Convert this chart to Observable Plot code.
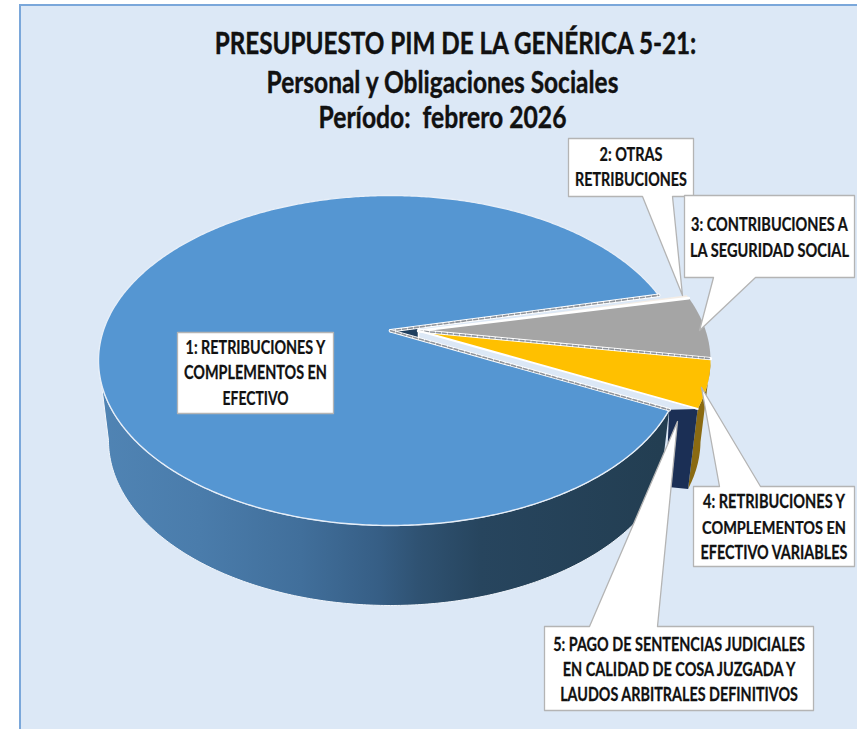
<!DOCTYPE html>
<html>
<head>
<meta charset="utf-8">
<script src="https://cdn.jsdelivr.net/npm/d3@7"></script>
<script src="https://cdn.jsdelivr.net/npm/@observablehq/plot@0.6"></script>
<style>html,body{margin:0;padding:0;background:#fff}svg{display:block}</style>
</head>
<body>
<div id="chart"></div>
<script>
// ---- data ----
const categories = ["1: RETRIBUCIONES Y COMPLEMENTOS EN EFECTIVO", "2: OTRAS RETRIBUCIONES",
  "3: CONTRIBUCIONES A LA SEGURIDAD SOCIAL", "4: RETRIBUCIONES Y COMPLEMENTOS EN EFECTIVO VARIABLES",
  "5: PAGO DE SENTENCIAS JUDICIALES EN CALIDAD DE COSA JUZGADA Y LAUDOS ARBITRALES DEFINITIVOS"];
const shares = [88.78, 0.31, 6.11, 4.72, 0.08];
const sliceColors = ["#5596d2", "#f4ede6", "#a5a5a5", "#ffc000", "#c3d3ec"];

const titleLines = ["PRESUPUESTO PIM DE LA GENÉRICA 5-21:", "Personal y Obligaciones Sociales", "Período:  febrero 2026"];
const titleX = [455, 442, 442];
const titleY = [44, 83, 118];
const titleW = [482, 352, 248];

const labelLines = [
  ["1: RETRIBUCIONES Y", "COMPLEMENTOS EN", "EFECTIVO"],
  ["2: OTRAS", "RETRIBUCIONES"],
  ["3: CONTRIBUCIONES A", "LA SEGURIDAD SOCIAL"],
  ["4: RETRIBUCIONES Y", "COMPLEMENTOS EN", "EFECTIVO VARIABLES"],
  ["5: PAGO DE SENTENCIAS JUDICIALES", "EN CALIDAD DE COSA JUZGADA Y", "LAUDOS ARBITRALES DEFINITIVOS"]
];
const labelLineY = [[348, 373, 399], [155, 180], [225, 251], [502, 528, 553], [645, 670, 695]];
const labelLineW = [[140, 143, 66], [63, 112], [157, 159], [142, 144, 147], [252, 233, 238]];

// label frames: x1,y1,x2,y2, then pointer base a,b on edge, and pointer tip
const boxes = [
  {x1: 177, y1: 332, x2: 333, y2: 413},
  {x1: 568, y1: 138, x2: 693, y2: 196, edge: "bottom", a: 642, b: 672, tx: 682, ty: 295},
  {x1: 684, y1: 195, x2: 854, y2: 277, edge: "bottom", a: 713, b: 755, tx: 699, ty: 330},
  {x1: 693, y1: 486, x2: 854, y2: 566, edge: "top", a: 719, b: 760, tx: 701, ty: 387},
  {x1: 544, y1: 626, x2: 813, y2: 710, edge: "top", a: 589, b: 657, tx: 677, ty: 421}
];

// ---- pie geometry ----
const view = {cyTop: 360, ry: 165, rxTop: 292, rxBot: 282, depth: 80, k: -0.18, cxBlue: 390, cxRest: 418};
const startAngle = 117 * Math.PI / 180;   // first slice begins here, clockwise from 12 o'clock
const pie = d3.pie().sort(null).startAngle(startAngle).endAngle(startAngle + 2 * Math.PI)(shares);

// perspective: keeps the rim a circle but moves the centre of the pie upward
function project(a, r, cx, bottom) {
  const ux = r * Math.sin(a), uy = -r * Math.cos(a);
  const s = Math.sqrt(1 - view.k * view.k), w = 1 + view.k * uy;
  const px = ux * s / w, py = (uy + view.k) / w;
  return {
    x: cx + px * (bottom ? view.rxBot : view.rxTop),
    y: view.cyTop + py * view.ry + (bottom ? view.depth : 0),
    py
  };
}
function arc(a0, a1, cx, bottom) {
  const n = Math.max(2, Math.ceil((a1 - a0) / 0.01));
  return d3.range(n + 1).map(i => project(a0 + (a1 - a0) * i / n, 1, cx, bottom));
}
function wedge(p, cx) {
  return [project(p.startAngle, 0, cx), ...arc(p.startAngle, p.endAngle, cx), project(p.startAngle, 0, cx)];
}
function side(p, cx) {
  const top = arc(p.startAngle, p.endAngle, cx).filter(d => d.py >= 0);
  const bot = arc(p.startAngle, p.endAngle, cx, true).filter(d => d.py >= 0);
  return [...top, ...bot.reverse()];
}
function spoke(a, cx) { return [project(a, 0, cx), project(a, 1, cx)]; }
function callout(b) {
  if (b.edge === "bottom") return [{x: b.x1, y: b.y1}, {x: b.x2, y: b.y1}, {x: b.x2, y: b.y2}, {x: b.b, y: b.y2}, {x: b.tx, y: b.ty}, {x: b.a, y: b.y2}, {x: b.x1, y: b.y2}, {x: b.x1, y: b.y1}];
  if (b.edge === "top") return [{x: b.x1, y: b.y1}, {x: b.a, y: b.y1}, {x: b.tx, y: b.ty}, {x: b.b, y: b.y1}, {x: b.x2, y: b.y1}, {x: b.x2, y: b.y2}, {x: b.x1, y: b.y2}, {x: b.x1, y: b.y1}];
  return [{x: b.x1, y: b.y1}, {x: b.x2, y: b.y1}, {x: b.x2, y: b.y2}, {x: b.x1, y: b.y2}, {x: b.x1, y: b.y1}];
}
const poly = (pts, o) => Plot.line(pts, {x: "x", y: "y", curve: "linear", stroke: "none", ...o});

const [blue, s2, gray, yellow, s5] = pie;

// dark notch between the apex of the big slice and the other slices
const blueApex = project(0, 0, view.cxBlue);
const restApex = project(0, 0, view.cxRest);
const alongRay = (a) => {
  const e = project(a, 1, view.cxBlue);
  const t = (restApex.x - blueApex.x) / (e.x - blueApex.x);
  return {x: blueApex.x + (e.x - blueApex.x) * t, y: blueApex.y + (e.y - blueApex.y) * t};
};
const notch = [blueApex, alongRay(blue.endAngle), alongRay(blue.startAngle), blueApex];

// end wall of the small slice 5
const wallTL = project(blue.startAngle, 1, view.cxBlue);
const wallTR = project(s5.startAngle, 1, view.cxRest);
const wallBR = project(s5.startAngle, 1, view.cxRest, true);
const wallBLa = project(blue.startAngle, 1, view.cxBlue, true);
const wallBL = {x: (wallBLa.x + wallBR.x) / 2 - 8, y: wallBLa.y - 3};
const wall = [wallTL, wallTR, wallBR, wallBL, wallTL];

const panel = [{x1: 20, y1: 5, x2: 870, y2: 740}];
const gradStops = [[0.0, "#5084b4"], [0.18, "#4a7cab"], [0.36, "#416f9b"], [0.5, "#365e85"], [0.57, "#2f5272"], [0.68, "#27455e"], [1, "#233e52"]];

const gradientDef = () => {
  const defs = d3.create("svg:defs");
  const g = defs.append("linearGradient").attr("id", "sideGrad").attr("gradientUnits", "userSpaceOnUse")
    .attr("x1", 98).attr("x2", 660).attr("y1", 0).attr("y2", 0);
  gradStops.forEach(([o, c]) => g.append("stop").attr("offset", o).attr("stop-color", c));
  return defs.node();
};

const dashed = (pts) => [
  poly(pts, {stroke: "#ffffff", strokeWidth: 3.4}),
  poly(pts, {stroke: "#8f949b", strokeWidth: 1.6, strokeDasharray: "4 2"})
];

const titleData = titleLines.map((t, i) => ({t, x: titleX[i], y: titleY[i], w: titleW[i]}));
const labelData = labelLines.flatMap((ls, i) => ls.map((t, j) => ({t, i, y: labelLineY[i][j], w: labelLineW[i][j], x: (boxes[i].x1 + boxes[i].x2) / 2})));

const chart = Plot.plot({
  width: 857, height: 729,
  margin: 0,
  x: {domain: [0, 857], range: [0, 857], axis: null},
  y: {domain: [0, 729], range: [0, 729], axis: null},
  style: {background: "#ffffff"},
  marks: [
    gradientDef,
    Plot.rect(panel, {x1: "x1", x2: "x2", y1: "y1", y2: "y2", fill: "#dce8f6", stroke: "#7aa7da", strokeWidth: 2}),
    // side walls
    poly(side(blue, view.cxBlue), {fill: "url(#sideGrad)", stroke: "#f0f5fb", strokeWidth: 1}),
    poly(side(yellow, view.cxRest), {fill: "#8a6a12"}),
    poly(wall, {fill: "#1b2f55"}),
    poly(notch, {fill: "#1f3f5f", stroke: "#ffffff", strokeWidth: 1.5}),
    // top faces
    poly(wedge(blue, view.cxBlue), {fill: sliceColors[0], stroke: "#e6eef8", strokeWidth: 1.4}),
    poly(wedge(s2, view.cxRest), {fill: sliceColors[1]}),
    poly(wedge(gray, view.cxRest), {fill: sliceColors[2]}),
    poly(wedge(yellow, view.cxRest), {fill: sliceColors[3]}),
    poly(wedge(s5, view.cxRest), {fill: sliceColors[4]}),
    // slice edges
    ...dashed(spoke(blue.endAngle, view.cxBlue)),
    ...dashed(spoke(blue.startAngle, view.cxBlue)),
    poly(spoke(gray.startAngle, view.cxRest), {stroke: "#ffffff", strokeWidth: 2.6}),
    ...dashed(spoke(yellow.startAngle, view.cxRest)),
    poly(spoke(s5.startAngle, view.cxRest), {stroke: "#ffffff", strokeWidth: 2}),
    // callouts
    ...boxes.map(b => poly(callout(b), {fill: "#ffffff", stroke: "#b4b4b4", strokeWidth: 1.3})),
    // text
    Plot.text(titleData, {x: "x", y: "y", text: "t", fontSize: 30, fontWeight: 700, fontFamily: "Lato", fill: "#111111", stroke: "#111111", strokeWidth: 0.4, textAnchor: "middle"}),
    Plot.text(labelData, {x: "x", y: "y", text: "t", fontSize: 18, fontWeight: 700, fontFamily: "Lato", fill: "#111111", stroke: "#111111", strokeWidth: 0.25, textAnchor: "middle"})
  ]
});

document.getElementById("chart").append(chart);
// squeeze the text horizontally to the widths seen in the picture
const widths = [...titleData, ...labelData].map(d => d.w);
chart.querySelectorAll("text").forEach((el, i) => {
  const k = widths[i] / el.getComputedTextLength();
  const base = el.getAttribute("transform") || "";
  el.setAttribute("transform", `${base} scale(${k},1)`);
});
</script>
</body>
</html>
